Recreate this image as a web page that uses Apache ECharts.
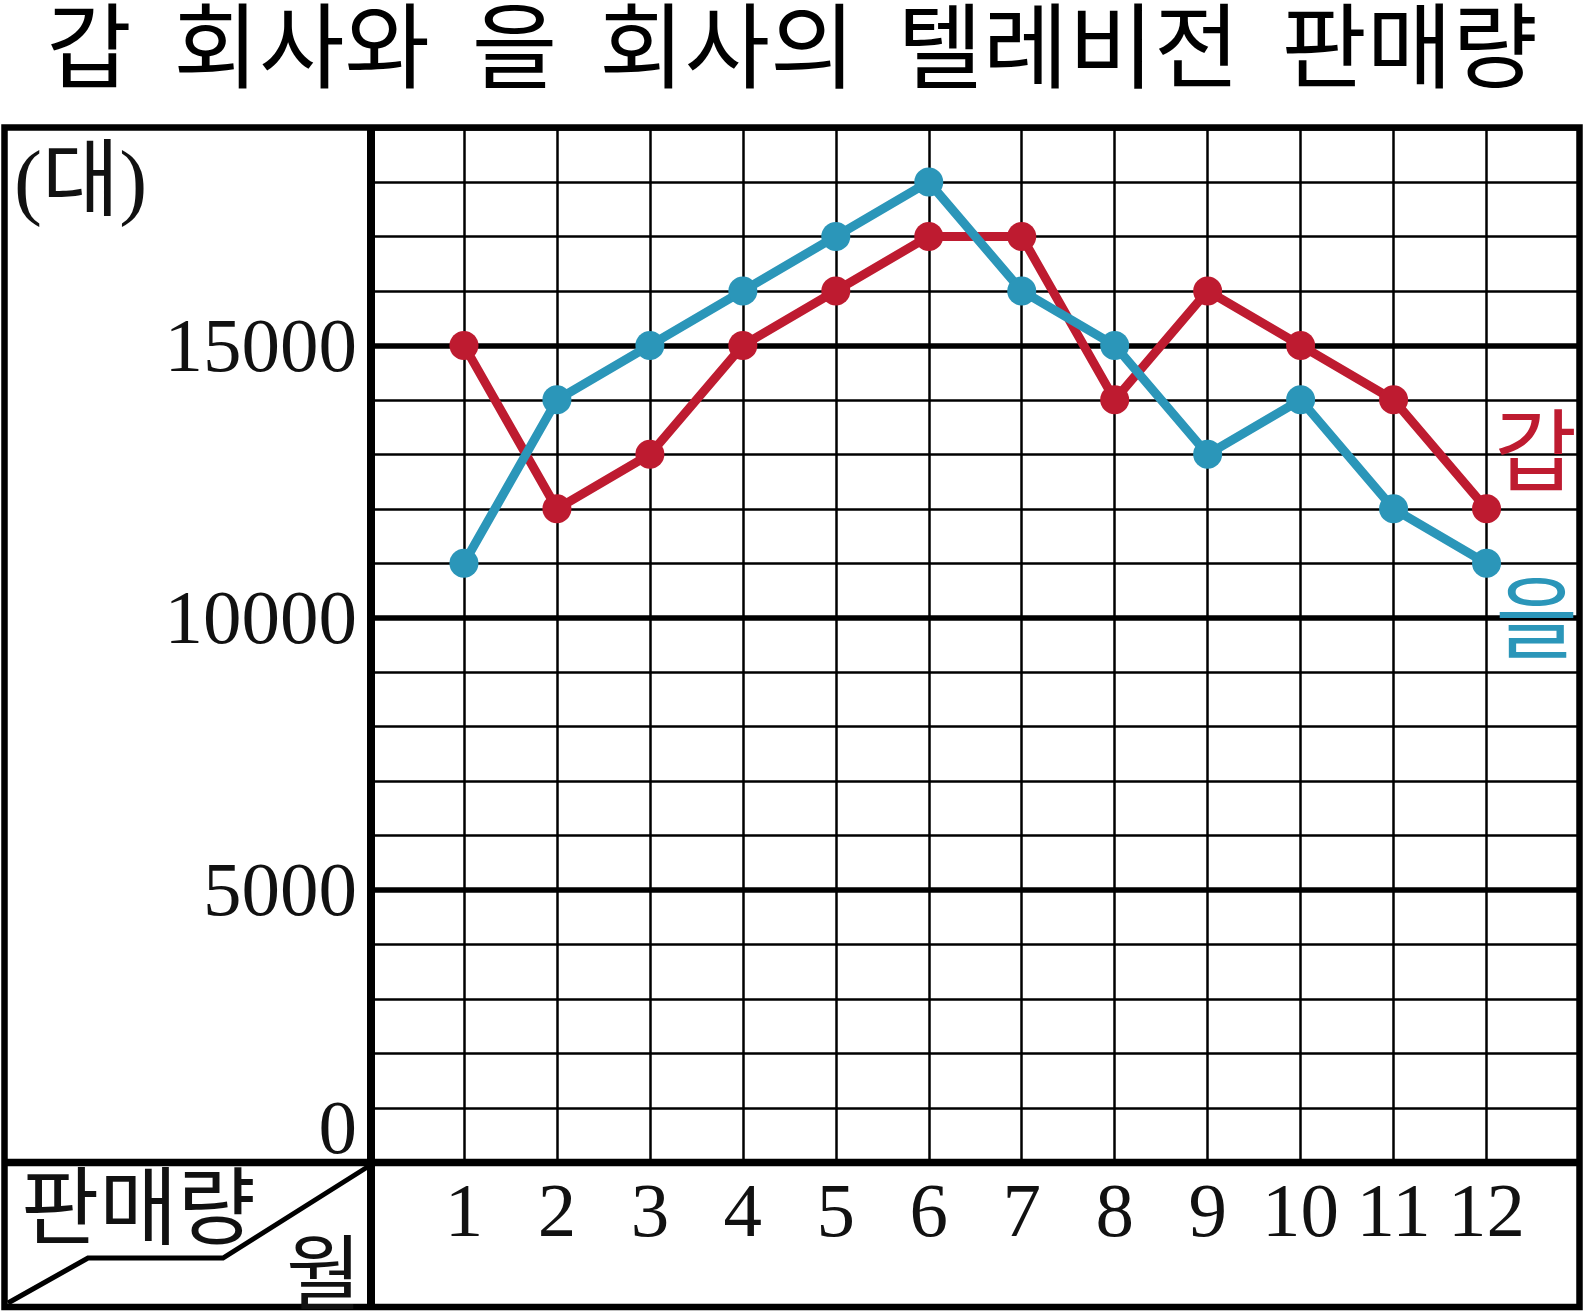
<!DOCTYPE html>
<html><head><meta charset="utf-8">
<script src="https://cdn.jsdelivr.net/npm/echarts/dist/echarts.min.js"></script>
<style>html,body{margin:0;padding:0;background:#fff}#c{width:1584px;height:1312px}</style>
</head><body><div id="c"></div>
<script>
const months = [1,2,3,4,5,6,7,8,9,10,11,12];
const gapSales = [15000,12000,13000,15000,16000,17000,17000,14000,16000,15000,14000,12000];
const eulSales = [11000,14000,15000,16000,17000,18000,16000,15000,13000,14000,12000,11000];
const yTickLabels = [0,5000,10000,15000];
const titleText = '갑  회사와  을  회사의  텔레비전  판매량';
const unitText = '(대)';
const cornerTop = '판매량';
const cornerBottom = '월';
const seriesNames = ['갑','을'];

const RED = '#BE1B30', BLUE = '#2B96B9';
const SERIF = '"Liberation Serif", "Noto Sans CJK KR", serif';
const KR = '"Noto Sans CJK KR", sans-serif';

const chart = echarts.init(document.getElementById('c'), null, {renderer:'canvas'});

function mk(vals, color, name, lblOffset) {
  return {
    type:'line', name: name,
    data: months.map((m,i)=>{
      const d = {value:[m, vals[i]]};
      if (i === months.length-1) d.label = {show:true, formatter:name, position:'inside', offset:lblOffset,
        color:color, fontSize:90, fontFamily:KR};
      return d;
    }),
    symbol:'circle', symbolSize:29,
    lineStyle:{width:9, color:color}, itemStyle:{color:color},
    label:{show:false}, animation:false
  };
}

chart.setOption({
  animation:false,
  title:{text:titleText, left:'center', top:-6, textStyle:{fontFamily:KR, fontSize:93, fontWeight:'normal', color:'#000'}},
  grid:{left:371, right:4.5, top:127.5, bottom:149.5, containLabel:false},
  xAxis:{type:'value', min:0, max:13, interval:1,
    axisLine:{show:false}, axisTick:{show:false},
    splitLine:{show:true, lineStyle:{color:'#000', width:2.5}},
    axisLabel:{formatter:v=>months.includes(v)?String(v):'', fontFamily:SERIF, fontSize:77, color:'#111', margin:15}},
  yAxis:[
    {type:'value', min:0, max:19000, interval:1000,
     axisLine:{show:false}, axisTick:{show:false},
     splitLine:{show:true, lineStyle:{color:'#000', width:2.5}},
     axisLabel:{formatter:v=>yTickLabels.includes(v)?(v===0?'{z|0}':'{n|'+v+'}'):'',
       fontFamily:SERIF, fontSize:77, color:'#111', margin:14,
       rich:{n:{fontFamily:SERIF, fontSize:77, color:'#111', padding:[10,0,0,0]},
             z:{fontFamily:SERIF, fontSize:77, color:'#111', padding:[0,0,60,0]}}}},
    {type:'value', min:0, max:19000, interval:5000,
     axisLine:{show:false}, axisTick:{show:false}, axisLabel:{show:false},
     splitLine:{show:true, lineStyle:{color:'#000', width:5.5}}}
  ],
  series:[ mk(gapSales, RED, seriesNames[0], [49,-59]), mk(eulSales, BLUE, seriesNames[1], [50,54]) ],
  graphic:[
    {type:'rect', shape:{x:4.5, y:127.5, width:1575, height:1179.5}, style:{fill:'none', stroke:'#000', lineWidth:6.5}, z:10},
    {type:'line', shape:{x1:4.5, y1:1162.5, x2:1579.5, y2:1162.5}, style:{stroke:'#000', lineWidth:7.5}, z:10},
    {type:'line', shape:{x1:371, y1:127.5, x2:371, y2:1307}, style:{stroke:'#000', lineWidth:8}, z:10},
    {type:'polyline', shape:{points:[[8,1303],[88,1258],[223,1258],[369,1166]]}, style:{stroke:'#000', lineWidth:5, fill:'none'}, z:10},
    {type:'text', x:14, y:187, style:{text:unitText, font:'84px '+SERIF, fill:'#111', textVerticalAlign:'middle'}, z:10},
    {type:'text', x:21, y:1206, style:{text:cornerTop, font:'85px '+KR, fill:'#111', textVerticalAlign:'middle'}, z:10},
    {type:'text', x:286, y:1272, style:{text:cornerBottom, font:'82px '+KR, fill:'#111', textVerticalAlign:'middle'}, z:10}
  ]
});
</script></body></html>
